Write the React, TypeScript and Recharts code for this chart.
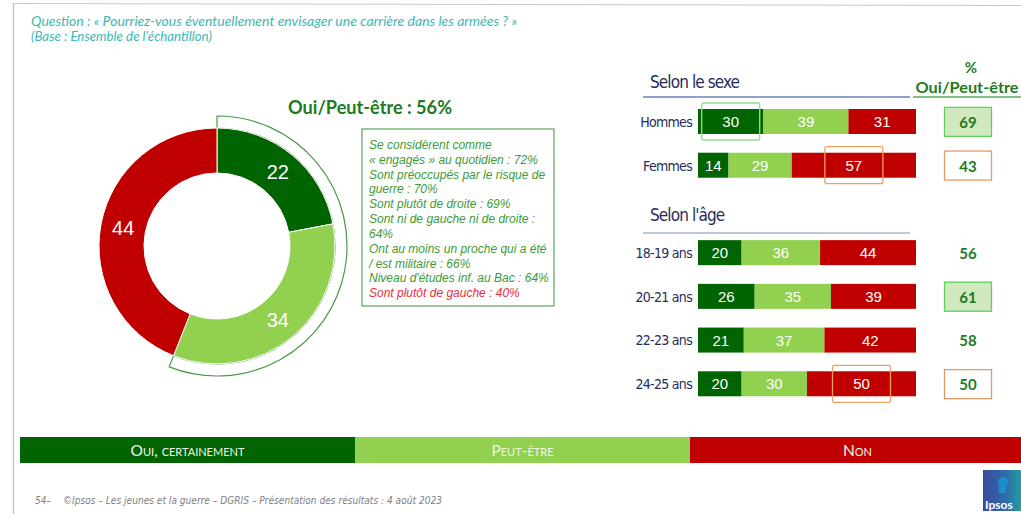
import React from 'react';
import { PieChart, Pie, Cell, BarChart, Bar, XAxis, YAxis, LabelList } from 'recharts';

// ---------- data ----------
const seriesNames = ['Oui, certainement', 'Peut-être', 'Non'];
const seriesColors = ['#006400', '#92d050', '#c00000'];

const donutValues = [22, 34, 44];
const summaryLabel = 'Oui/Peut-être';

const rowLabels = ['Hommes', 'Femmes', '', '18-19 ans', '20-21 ans', '22-23 ans', '24-25 ans'];
const ouiValues = [30, 14, null, 20, 26, 21, 20];
const peutValues = [39, 29, null, 36, 35, 37, 30];
const nonValues = [31, 57, null, 44, 39, 42, 50];
const totalValues = [69, 43, null, 56, 61, 58, 50];
const totalSignif = ['up', 'down', '', '', 'up', '', 'down'];
const ouiSignif = ['up', '', '', '', '', '', ''];
const nonSignif = ['', 'up', '', '', '', '', 'up'];

const profileLines = [
  'Se considèrent comme',
  '« engagés » au quotidien : 72%',
  'Sont préoccupés par le risque de',
  'guerre : 70%',
  'Sont plutôt de droite : 69%',
  'Sont ni de gauche ni de droite :',
  '64%',
  'Ont au moins un proche qui a été',
  '/ est militaire : 66%',
  "Niveau d'études inf. au Bac : 64%",
  'Sont plutôt de gauche : 40%',
];
const profileNegative = [false, false, false, false, false, false, false, false, false, false, true];

const questionText = 'Question : « Pourriez-vous éventuellement envisager une carrière dans les armées ? »';
const baseText = "(Base : Ensemble de l'échantillon)";
const footerText = '©Ipsos – Les jeunes et la guerre – DGRIS – Présentation des résultats : 4 août 2023';

// ---------- derived tables ----------
const donutData = seriesNames.map((n, i) => ({ name: n, value: donutValues[i] }));
const outlineData = [
  { name: summaryLabel, value: donutValues[0] + donutValues[1] },
  { name: 'rest', value: donutValues[2] },
];
const barData = rowLabels.map((l, i) => ({
  label: l,
  oui: ouiValues[i],
  peut: peutValues[i],
  non: nonValues[i],
  ouiMark: ouiSignif[i],
  nonMark: nonSignif[i],
}));

const NARROW = '"Liberation Sans Narrow", "Arial Narrow", "DejaVu Sans Condensed", sans-serif';
const ARIAL = '"Liberation Sans", Arial, sans-serif';
const CAL = 'Lato, "Open Sans", sans-serif';
const DARKGREEN_TXT = '#217a1f';

const RAD = Math.PI / 180;
const renderDonutLabel = (props: any) => {
  const { cx, cy, midAngle, innerRadius, outerRadius, value } = props;
  const r = (innerRadius + outerRadius) / 2;
  const x = cx + r * Math.cos(-midAngle * RAD);
  const y = cy + r * Math.sin(-midAngle * RAD);
  return (
    <text x={x} y={y} fill="#fff" fontSize={20} fontFamily={ARIAL} textAnchor="middle" dominantBaseline="central">
      {value}
    </text>
  );
};

const makeShape = (markKey: string | null, boxColor: string) => (props: any) => {
  const { x, y, width, height, fill, payload } = props;
  if (width == null || !height) return <g />;
  const cx = Number(x) + Number(width) / 2;
  const cy = Number(y) + Number(height) / 2;
  const marked = markKey && payload && payload[markKey] === 'up';
  return (
    <g>
      <rect x={x} y={y} width={width} height={height} fill={fill} />
      {marked && (
        <rect x={cx - 29} y={cy - 18.5} width={58} height={37} fill="none" stroke={boxColor} strokeWidth={1.3} rx={2} />
      )}
    </g>
  );
};

const segLabel = (props: any) => {
  const { x, y, width, height, value } = props;
  if (value == null || width == null) return <g />;
  const cx = Number(x) + Number(width) / 2;
  const cy = Number(y) + Number(height) / 2;
  return (
    <text x={cx} y={cy} fill="#fff" fontSize={15} fontFamily={ARIAL} textAnchor="middle" dominantBaseline="central">
      {value}
    </text>
  );
};

const RowTick = (props: any) => {
  const { x, y, payload } = props;
  return (
    <text x={x} y={y} textAnchor="end" dominantBaseline="central" fontFamily={NARROW} fontSize={14} fill="#1f2d5a" letterSpacing={-0.7}>
      {payload?.value}
    </text>
  );
};

const TotalTick = (props: any) => {
  const { x, y, payload } = props;
  const i = props.index ?? payload?.index;
  const v = totalValues[i];
  if (v == null) return <g />;
  const cx = Number(x) + 44;
  const flag = totalSignif[i];
  return (
    <g>
      {flag && (
        <rect
          x={cx - 23.5}
          y={y - 14.5}
          width={47}
          height={29}
          fill={flag === 'up' ? '#d0e9bf' : '#ffffff'}
          stroke={flag === 'up' ? '#5fcf5f' : '#e39a68'}
          strokeWidth={1.3}
        />
      )}
      <text x={cx} y={y} textAnchor="middle" dominantBaseline="central" fontFamily={CAL} fontWeight={700} fontSize={15} fill={DARKGREEN_TXT}>
        {v}
      </text>
    </g>
  );
};

export default function App() {
  return (
    <div style={{ position: 'absolute', left: 0, top: 0, width: 1021, height: 514, background: '#fff', overflow: 'hidden' }}>
      <svg width={1021} height={514} style={{ position: 'absolute', left: 0, top: 0 }}>
        <defs>
          <linearGradient id="ipsosGrad" x1="0" y1="0" x2="1" y2="0">
            <stop offset="0" stopColor="#3a4a9e" />
            <stop offset="0.55" stopColor="#2f6aa8" />
            <stop offset="1" stopColor="#21a3a0" />
          </linearGradient>
        </defs>
        {/* frame */}
        <line x1={13.5} y1={3} x2={13.5} y2={514} stroke="#c8c8c8" strokeWidth={1.5} />
        <line x1={13} y1={3.5} x2={1021} y2={5.5} stroke="#c8c8c8" strokeWidth={1.2} />
        {/* question */}
        <text x={31} y={21} dominantBaseline="central" fontFamily={CAL} fontStyle="italic" fontSize={12.5} fill="#3db7b3" textLength={486} lengthAdjust="spacingAndGlyphs">
          {questionText}
        </text>
        <text x={31} y={36} dominantBaseline="central" fontFamily={CAL} fontStyle="italic" fontSize={12.5} fill="#3db7b3" textLength={181} lengthAdjust="spacingAndGlyphs">
          {baseText}
        </text>
        {/* title */}
        <text x={288} y={107} dominantBaseline="central" fontFamily={CAL} fontWeight={700} fontSize={18} fill={DARKGREEN_TXT} textLength={164} lengthAdjust="spacingAndGlyphs">
          {`${summaryLabel} : ${donutValues[0] + donutValues[1]}%`}
        </text>
        {/* profile box */}
        <rect x={362} y={129} width={192} height={177} fill="#fff" stroke="#5aa55a" strokeWidth={1.2} />
        {profileLines.map((t, i) => (
          <text
            key={i}
            x={369}
            y={145 + i * 14.83}
            dominantBaseline="central"
            fontFamily={ARIAL}
            fontStyle="italic"
            fontSize={12}
            fill={profileNegative[i] ? '#e5303a' : '#3d9a35'}
          >
            {t}
          </text>
        ))}
        {/* section headers */}
        <text x={650} y={82} dominantBaseline="central" fontFamily={NARROW} fontSize={17} fill="#1f2d5a" letterSpacing={-0.9}>
          Selon le sexe
        </text>
        <line x1={643} y1={97} x2={910} y2={97} stroke="#6a82b6" strokeWidth={1.6} />
        <text x={650} y={215} dominantBaseline="central" fontFamily={NARROW} fontSize={17} fill="#1f2d5a" letterSpacing={-0.9}>
          Selon l'âge
        </text>
        <line x1={643} y1={233} x2={910} y2={233} stroke="#a6b4d6" strokeWidth={1.6} />
        <text x={971} y={67} textAnchor="middle" dominantBaseline="central" fontFamily={CAL} fontWeight={700} fontSize={15} fill={DARKGREEN_TXT}>
          %
        </text>
        <text x={967} y={87} textAnchor="middle" dominantBaseline="central" fontFamily={CAL} fontWeight={700} fontSize={15} fill={DARKGREEN_TXT} textLength={103} lengthAdjust="spacingAndGlyphs">
          {summaryLabel}
        </text>
        <line x1={913} y1={97} x2={1021} y2={97} stroke="#5aa85a" strokeWidth={1.6} />
        {/* footer */}
        <text x={35} y={500} dominantBaseline="central" fontFamily={NARROW} fontStyle="italic" fontSize={10} fill="#808080">
          54–
        </text>
        <text x={63} y={500} dominantBaseline="central" fontFamily={NARROW} fontStyle="italic" fontSize={10} fill="#808080" textLength={379} lengthAdjust="spacingAndGlyphs">
          {footerText}
        </text>
        {/* logo */}
        <rect x={983} y={470} width={40} height={41} fill="url(#ipsosGrad)" />
        <circle cx={1003} cy={482} r={5} fill="#1a8fd0" />
        <rect x={999} y={485} width={7} height={8} fill="#1a8fd0" />
        <text x={985} y={504} dominantBaseline="central" fontFamily={CAL} fontWeight={700} fontSize={12} fill="#fff">
          Ipsos
        </text>
      </svg>

      <div style={{ position: 'absolute', left: 0, top: 0 }}>
        <PieChart width={440} height={420}>
          <Pie
            data={outlineData}
            dataKey="value"
            cx={212}
            cy={241}
            innerRadius={118}
            outerRadius={130}
            startAngle={90}
            endAngle={-270}
            isAnimationActive={false}
            label={false}
            labelLine={false}
          >
            <Cell fill="none" stroke="#4a9a4a" strokeWidth={1.2} />
            <Cell fill="none" stroke="none" />
          </Pie>
          <Pie
            data={donutData}
            dataKey="value"
            cx={212}
            cy={241}
            innerRadius={73}
            outerRadius={118}
            startAngle={90}
            endAngle={-270}
            isAnimationActive={false}
            stroke="#fff"
            strokeWidth={1}
            label={renderDonutLabel}
            labelLine={false}
          >
            {donutData.map((d, i) => (
              <Cell key={d.name} fill={seriesColors[i]} />
            ))}
          </Pie>
        </PieChart>
      </div>

      <div style={{ position: 'absolute', left: 0, top: 0 }}>
        <BarChart
          width={1021}
          height={514}
          data={barData}
          layout="vertical"
          margin={{ top: 100, right: 0, bottom: 108, left: 598 }}
          barSize={25}
        >
          <XAxis type="number" domain={[0, 100]} hide />
          <YAxis yAxisId="left" type="category" dataKey="label" width={100} axisLine={false} tickLine={false} tickSize={4} interval={0} tick={<RowTick />} />
          <YAxis yAxisId="right" orientation="right" type="category" dataKey="label" width={105} axisLine={false} tickLine={false} interval={0} tick={<TotalTick />} />
          <Bar yAxisId="left" dataKey="oui" name={seriesNames[0]} stackId="s" fill={seriesColors[0]} isAnimationActive={false} shape={makeShape('ouiMark', '#8fe08f')}>
            <LabelList dataKey="oui" content={segLabel} />
          </Bar>
          <Bar yAxisId="left" dataKey="peut" name={seriesNames[1]} stackId="s" fill={seriesColors[1]} isAnimationActive={false} shape={makeShape(null, '#8fe08f')}>
            <LabelList dataKey="peut" content={segLabel} />
          </Bar>
          <Bar yAxisId="left" dataKey="non" name={seriesNames[2]} stackId="s" fill={seriesColors[2]} isAnimationActive={false} shape={makeShape('nonMark', '#f0a060')}>
            <LabelList dataKey="non" content={segLabel} />
          </Bar>
        </BarChart>
      </div>

      {/* legend band */}
      <div style={{ position: 'absolute', left: 20, top: 437, display: 'flex', height: 26 }}>
        {seriesNames.map((n, i) => (
          <div
            key={n}
            style={{
              width: 335,
              height: 26,
              background: seriesColors[i],
              color: '#eef7e8',
              fontFamily: CAL,
              fontSize: 15.5,
              fontVariant: 'small-caps',
              textAlign: 'center',
              lineHeight: '26px',
            }}
          >
            {n}
          </div>
        ))}
      </div>
    </div>
  );
}
